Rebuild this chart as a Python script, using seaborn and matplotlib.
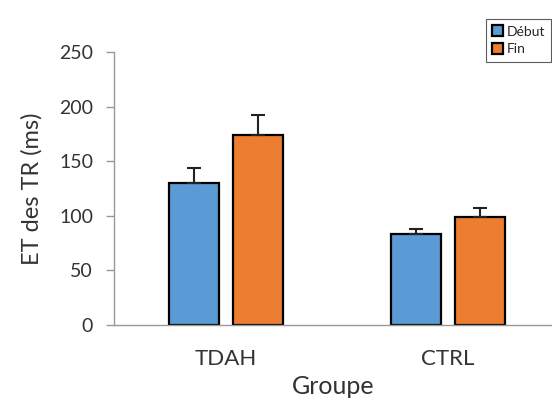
import matplotlib
matplotlib.use('Agg')
import matplotlib.pyplot as plt
import seaborn as sns
import pandas as pd
import numpy as np

# Data
groups = ["TDAH", "CTRL"]
phases = ["Début", "Fin"]
debut_vals = [130, 83]
fin_vals = [174, 99]
debut_err = [14, 5]
fin_err = [18, 8]
colors = ["#5B9BD5", "#ED7D31"]

df = pd.DataFrame({
    "Groupe": groups * 2,
    "Phase": [phases[0]] * 2 + [phases[1]] * 2,
    "ET": debut_vals + fin_vals,
    "err": debut_err + fin_err,
})

sns.set_style("white")
plt.rcParams['font.family'] = ['Lato', 'DejaVu Sans']

fig = plt.figure(figsize=(5.52, 4.01), dpi=100)
ax = fig.add_axes([0.2065, 0.1895, 0.7935, 0.6808])

sns.barplot(data=df, x="Groupe", y="ET", hue="Phase", order=groups,
            hue_order=phases, palette=colors, width=0.57, gap=0.21,
            edgecolor="black", linewidth=1.6, saturation=1, errorbar=None, ax=ax)

# upward-only error bars, placed on the bars seaborn drew
for container, phase in zip(ax.containers, phases):
    sub = df[df["Phase"] == phase].set_index("Groupe").loc[groups]
    xs = [p.get_x() + p.get_width() / 2 for p in container.patches]
    errs = sub["err"].values
    ax.errorbar(xs, sub["ET"].values, yerr=[np.zeros_like(errs), errs],
                fmt="none", ecolor="#222222", elinewidth=1.5, capsize=5,
                capthick=1.5, zorder=3)

ax.set_ylim(0, 250)
ax.set_xlim(-0.505, 1.468)
ax.set_yticks([0, 50, 100, 150, 200, 250])

for s in ["top", "right"]:
    ax.spines[s].set_visible(False)
for s in ["left", "bottom"]:
    ax.spines[s].set_color("#999999")
    ax.spines[s].set_linewidth(1.0)

ax.tick_params(axis="y", which="both", left=True, length=6, width=1,
               color="#999999", labelsize=14, pad=9, labelcolor="#333333")
ax.tick_params(axis="x", bottom=False, labelsize=16, pad=14, labelcolor="#333333")

ax.set_ylabel("ET des TR (ms)", fontsize=17, color="#333333", labelpad=12)
ax.set_xlabel("Groupe", fontsize=18, color="#333333", labelpad=4)

leg = ax.legend(loc="upper right", bbox_to_anchor=(0.998, 1.12), fontsize=10,
                frameon=True, fancybox=False, edgecolor="#333333",
                handlelength=0.8, handleheight=0.8, handletextpad=0.25,
                borderpad=0.45, labelspacing=0.4, borderaxespad=0)
leg.get_frame().set_linewidth(0.8)

fig.savefig("out.png", dpi=100)
